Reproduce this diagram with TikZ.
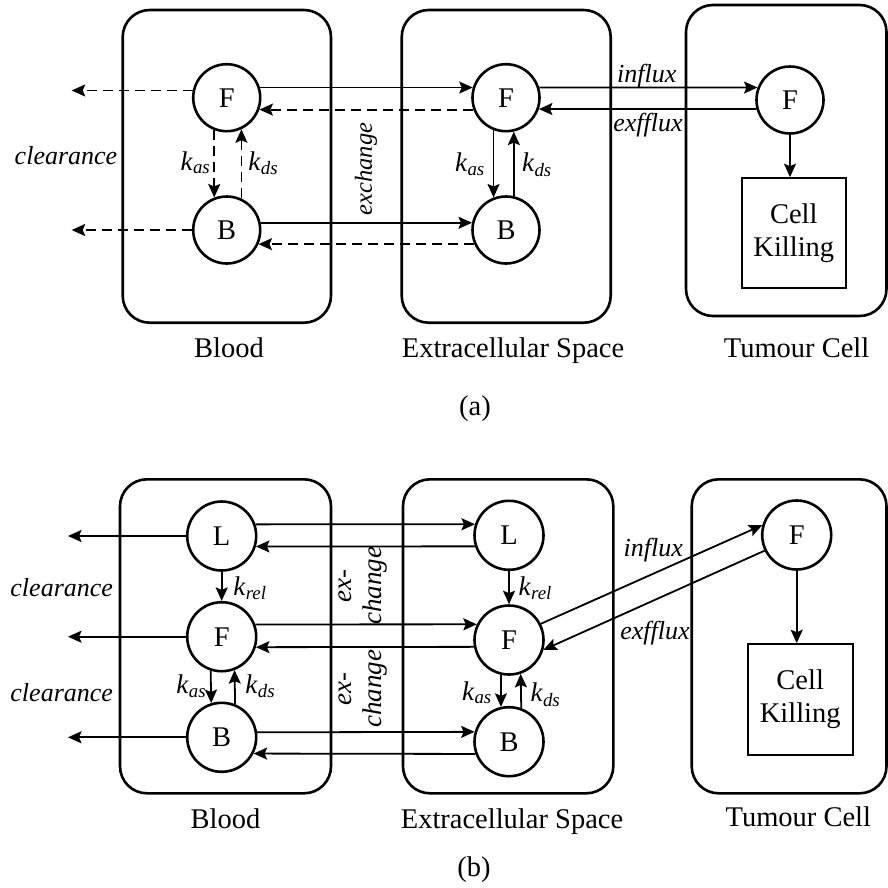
\documentclass[tikz,border=0pt]{standalone}
\usepackage{fontspec}
\setmainfont{Liberation Serif}
\usetikzlibrary{arrows.meta}
\newcommand\kk[1]{\textit{k}\textsubscript{\textit{#1}}}
\begin{document}
\begin{tikzpicture}[x=1pt,y=-1pt,
 every node/.style={font=\fontsize{28.5}{33}\selectfont, inner sep=0pt},
 region/.style={line width=2.6pt, rounded corners=27pt},
 pool/.style={circle, draw, line width=2.6pt, minimum size=67pt},
 poolb/.style={pool, minimum size=69pt},
 flow/.style={line width=1.8pt, -{Stealth[length=13.5pt,width=12pt,inset=2.5pt]}},
 dflow/.style={flow, dash pattern=on 10pt off 6pt},
 lab/.style={font=\fontsize{26}{29}\selectfont\itshape},
 klab/.style={anchor=base, font=\fontsize{27}{30}\selectfont},
 killbox/.style={draw, line width=1.6pt, align=center},
 title/.style={anchor=base}
]
\useasboundingbox (0,0) rectangle (888,887);

% ---------------- (a) ----------------
\draw[region] (122.7,10) rectangle (331,322.7);
\draw[region] (401.7,10) rectangle (610.7,322.7);
\draw[region] (686,5) rectangle (886.5,316);

\node[pool] (aBF) at (226.7,97.7) {F};
\node[pool] (aBB) at (226.7,230) {B};
\node[pool] (aEF) at (506,97.7) {F};
\node[pool] (aEB) at (506,230) {B};
\node[pool] (aTF) at (790,100) {F};
\node[killbox, minimum width=104pt, minimum height=110pt] (aCK) at (793.8,233) {Cell\\Killing};

\coordinate (aClr) at (71.7,0);
\draw[dflow] (aBF.168) -- (aBF.168 -| aClr);
\draw[dflow] (aBB.west) -- (aBB.west -| aClr);

\draw[flow] (aBF.17) -- (aEF.163);
\draw[dflow] (aEF.200) -- (aBF.-20);
\draw[flow] (aBB.12) -- (aEB.168);
\draw[dflow] (aEB.204) -- (aBB.-24);

\draw[dflow] (aBF.249) -- (aBB.111);
\draw[dflow] (aBB.65) -- (aBF.295);
\draw[flow] (aEF.249) -- (aEB.111);
\draw[flow] (aEB.77) -- (aEF.283);

\draw[flow] (aEF.17) -- (aTF.159);
\draw[flow] (aTF.195) -- (aEF.-19);
\draw[flow] (aTF.south) -- (aTF.south |- aCK.north);

\node[lab, anchor=base] (aClrL) at (66,164) {clearance};
\node[klab] (aKas) at (195.5,170) {\kk{as}};
\node[klab] (aKds) at (263.3,170) {\kk{ds}};
\node[klab] (aKas2) at (470,171.7) {\kk{as}};
\node[klab] (aKds2) at (537,171.7) {\kk{ds}};
\node[lab, rotate=90, font=\fontsize{24.5}{28}\selectfont\itshape] (aExch) at (366,169) {exchange};
\node[lab, anchor=base] (aInf) at (646.7,82.7) {influx};
\node[lab, anchor=base] (aExf) at (648,131) {exfflux};

\node[title] (aT1) at (229,357) {Blood};
\node[title] (aT2) at (513,357) {Extracellular Space};
\node[title] (aT3) at (796.6,357) {Tumour Cell};
\node[title] (aCap) at (475,415) {(a)};

% ---------------- (b) ----------------
\draw[region] (120,479.3) rectangle (331,793.3);
\draw[region] (403,479.3) rectangle (613.3,793.3);
\draw[region] (691.7,479.3) rectangle (886.5,793.3);

\node[poolb] (bL) at (221.7,536) {L};
\node[poolb] (bF) at (221.7,636.7) {F};
\node[poolb] (bB) at (221.7,737.3) {B};
\node[poolb] (eL) at (509,535.3) {L};
\node[poolb] (eF) at (509,640) {F};
\node[poolb] (eB) at (509,741.7) {B};
\node[poolb] (tF) at (796.7,535) {F};
\node[killbox, minimum width=105pt, minimum height=111pt] (bCK) at (800.2,699.5) {Cell\\Killing};

\coordinate (bClr) at (68,0);
\draw[flow] (bL.west) -- (bL.west -| bClr);
\draw[flow] (bF.west) -- (bF.west -| bClr);
\draw[flow] (bB.west) -- (bB.west -| bClr);

\draw[flow] (bL.19) -- (eL.162.2);
\draw[flow] (eL.198.5) -- (bL.-17.3);
\draw[flow] (bF.20.2) -- (eF.154.1);
\draw[flow] (eF.191.7) -- (bF.-17.1);
\draw[flow] (bB.8.5) -- (eB.164.4);
\draw[flow] (eB.200) -- (bB.-27.6);

\draw[flow] (bL.south) -- (bF.north);
\draw[flow] (eL.south) -- (eF.north);
\draw[flow] (bF.252.7) -- (bB.107.3);
\draw[flow] (bB.68.3) -- (bF.291.7);
\draw[flow] (eF.257) -- (eB.103);
\draw[flow] (eB.70.7) -- (eF.289.3);

\draw[flow] (eF.27.2) -- (tF.164);
\draw[flow] (tF.206.2) -- (eF.-16.3);
\draw[flow] (tF.south) -- (tF.south |- bCK.north);

\node[lab, anchor=base] (bClrL1) at (61.7,596) {clearance};
\node[lab, anchor=base] (bClrL2) at (61.7,701) {clearance};
\node[klab] (bKrel) at (250,595) {\kk{rel}};
\node[klab] (eKrel) at (535.3,595) {\kk{rel}};
\node[klab] (bKas) at (191.3,693.3) {\kk{as}};
\node[klab] (bKds) at (260.3,693.3) {\kk{ds}};
\node[klab] (eKas) at (477,700) {\kk{as}};
\node[klab] (eKds) at (545.5,701.7) {\kk{ds}};
\node[lab, rotate=90, align=center, font=\fontsize{27}{30}\selectfont\itshape] (bEx1) at (362.8,585.8) {ex-\\change};
\node[lab, rotate=90, align=center, font=\fontsize{27}{30}\selectfont\itshape] (bEx2) at (362.8,688.7) {ex-\\change};
\node[lab, anchor=base] (bInf) at (653.3,556) {influx};
\node[lab, anchor=base] (bExf) at (655,639.3) {exfflux};

\node[title] (bT1) at (225.5,828.3) {Blood};
\node[title] (bT2) at (512,828.3) {Extracellular Space};
\node[title] (bT3) at (798.3,826.7) {Tumour Cell};
\node[title] (bCap) at (474,876.5) {(b)};
\end{tikzpicture}
\end{document}
